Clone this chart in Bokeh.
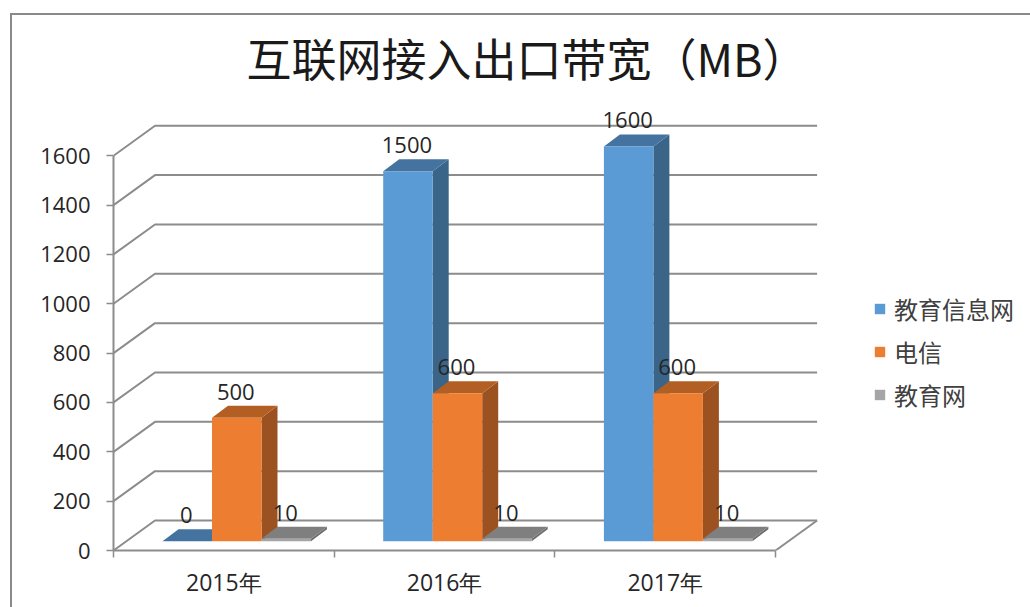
from bokeh.plotting import figure
from bokeh.embed import file_html
from bokeh.resources import INLINE
from bokeh.models import (Range1d, LinearAxis, FixedTicker, Title, Legend, LegendItem)
from bokeh.core.properties import value

# ---- data ----
categories = ["2015年", "2016年", "2017年"]
series_names = ["教育信息网", "电信", "教育网"]
edu_info = [0, 1500, 1600]
telecom = [500, 600, 600]
edu_net = [10, 10, 10]
y_ticks = [0, 200, 400, 600, 800, 1000, 1200, 1400, 1600]
title_text = "互联网接入出口带宽（MB）"

front = ["#5B9BD5", "#ED7D31", "#A5A5A5"]
side = ["#3A6488", "#9C5220", "#6E6E6E"]
top = ["#44739F", "#B35F24", "#7F7F7F"]
GRID = "#8C8C8C"
TEXT = "#262626"
FONT = "Open Sans"
W, H = 1030, 607

# ---- geometry in axis units ----
PX_X = 220.7          # px per category
PX_Y = 0.2467         # px per value unit
FRAME_L, FRAME_T, FRAME_B = 113, 96, 550  # window coordinates of the frame
WALL_DX = 41.5 / PX_X
WALL_DY = 30 / PX_Y
BASE = 9.3 / PX_Y     # bars stand on the floor, above the front edge
BAR_W = 49.5 / PX_X
BAR_DX = 16 / PX_X
BAR_DY = 12 / PX_Y
GROUP_L = 49 / PX_X

# outer chart border: top and left edges, behind a transparent canvas
border_css = {
    "background-image": "linear-gradient(#8A8A8A,#8A8A8A),linear-gradient(#8A8A8A,#8A8A8A)",
    "background-size": "1020px 2px, 2px 594px",
    "background-position": "10px 13px, 10px 13px",
    "background-repeat": "no-repeat",
}

p = figure(width=W, height=H, output_backend="svg", toolbar_location=None,
           x_range=Range1d(0, (W - FRAME_L) / PX_X),
           y_range=Range1d(0, (FRAME_B - FRAME_T) / PX_Y),
           x_axis_type=None, y_axis_type=None,
           min_border_left=FRAME_L, min_border_right=0,
           min_border_top=FRAME_T, min_border_bottom=H - FRAME_B,
           outline_line_color=None, background_fill_alpha=0, border_fill_alpha=0,
           styles=border_css)
p.grid.visible = False

# real axes
yax = LinearAxis(ticker=FixedTicker(ticks=y_ticks), bounds=(0, 1600),
                 axis_line_color=GRID, axis_line_width=2,
                 major_tick_line_color=GRID, major_tick_line_width=1.5,
                 major_tick_in=0, major_tick_out=7, minor_tick_out=0, minor_tick_in=0,
                 major_label_standoff=16, major_label_text_font=FONT,
                 major_label_text_font_size="22px", major_label_text_color=TEXT)
p.add_layout(yax, "left")

n = len(categories)
xax = LinearAxis(ticker=FixedTicker(ticks=[i + 0.5 for i in range(n)],
                                    minor_ticks=list(range(n + 1))),
                 major_label_overrides={i + 0.5: c for i, c in enumerate(categories)},
                 bounds=(0, n), axis_line_color=GRID, axis_line_width=2,
                 major_tick_in=0, major_tick_out=0,
                 minor_tick_in=0, minor_tick_out=7,
                 minor_tick_line_color=GRID, minor_tick_line_width=1.5,
                 major_label_standoff=8, major_label_text_font=FONT,
                 major_label_text_font_size="23px", major_label_text_color=TEXT)
p.add_layout(xax, "below")

# walls and floor lines
for t in y_ticks:
    p.line([0, WALL_DX, n + WALL_DX], [t, t + WALL_DY, t + WALL_DY],
           line_color=GRID, line_width=2)
p.line([n, n + WALL_DX], [0, WALL_DY], line_color=GRID, line_width=2)

# bars as 3D boxes: back to front, left to right
all_series = [edu_info, telecom, edu_net]
renderers = {}
for i in range(n):
    for s, vals in enumerate(all_series):
        v = vals[i]
        x0 = i + GROUP_L + s * BAR_W
        x1 = x0 + BAR_W
        y0, y1 = BASE, BASE + v
        # side
        p.patch([x1, x1 + BAR_DX, x1 + BAR_DX, x1],
                [y0, y0 + BAR_DY, y1 + BAR_DY, y1], fill_color=side[s], line_color=None)
        # top
        p.patch([x0, x1, x1 + BAR_DX, x0 + BAR_DX],
                [y1, y1, y1 + BAR_DY, y1 + BAR_DY], fill_color=top[s], line_color=None)
        # front
        r = p.quad(left=[x0], right=[x1], bottom=[y0], top=[y1],
                   fill_color=front[s], line_color=None)
        renderers.setdefault(s, r)

# data labels
for s, vals in enumerate(all_series):
    xs = [i + GROUP_L + s * BAR_W + (BAR_W + BAR_DX) / 2 - 9 / PX_X for i in range(n)]
    ys = [BASE + v + BAR_DY + 6 / PX_Y for v in vals]
    p.text(xs, ys, text=[str(v) for v in vals], text_align="center",
           text_baseline="bottom", text_font=value(FONT), text_font_size="22px",
           text_color=TEXT)

# legend
legend = Legend(items=[LegendItem(label=value(series_names[s]), renderers=[renderers[s]])
                       for s in range(3)],
                location=(760, 138), orientation="vertical",
                glyph_width=13, glyph_height=13, label_text_font="Noto Sans CJK SC",
                label_text_font_size="24px", label_text_color="#404040",
                label_standoff=8, spacing=8, padding=0, margin=0,
                background_fill_alpha=0, border_line_color=None)
p.add_layout(legend)

# title
p.add_layout(Title(text=title_text, align="left", offset=133, standoff=14,
                   text_font="Noto Sans CJK SC", text_font_size="45px",
                   text_font_style="normal", text_color="#1A1A1A"), "above")

open("out.html", "w").write(file_html(p, INLINE))
